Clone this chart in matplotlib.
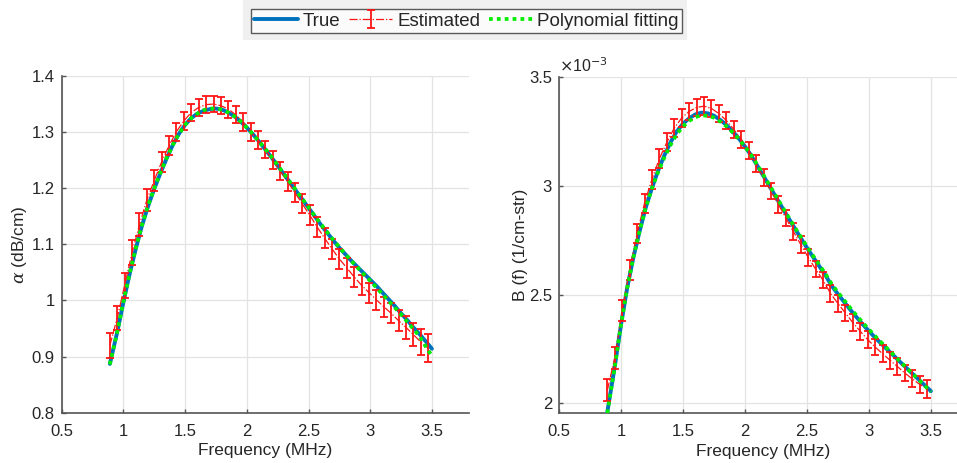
import numpy as np
import matplotlib
matplotlib.use("Agg")
import matplotlib.pyplot as plt
from matplotlib.patches import Rectangle
from matplotlib.ticker import FuncFormatter, FixedLocator

plt.rcParams['font.family'] = ['Liberation Sans', 'DejaVu Sans']
plt.rcParams['mathtext.fontset'] = 'custom'
plt.rcParams['mathtext.it'] = 'DejaVu Serif:italic'

# ---- frequency grids (MHz) ----
freq_true = [0.89, 0.95, 1.00, 1.05, 1.10, 1.15, 1.20, 1.25, 1.30, 1.35, 1.40,
             1.45, 1.50, 1.55, 1.60, 1.65, 1.70, 1.75, 1.80, 1.85, 1.90, 1.95,
             2.00, 2.05, 2.10, 2.15, 2.20, 2.25, 2.30, 2.35, 2.40, 2.45, 2.50,
             2.55, 2.60, 2.65, 2.70, 2.75, 2.80, 2.85, 2.90, 2.95, 3.00, 3.05,
             3.10, 3.15, 3.20, 3.25, 3.30, 3.35, 3.40, 3.45, 3.50]

freq_est = [0.89, 0.95, 1.01, 1.07, 1.13, 1.19, 1.25, 1.31, 1.37, 1.43, 1.49,
            1.55, 1.61, 1.67, 1.73, 1.79, 1.85, 1.91, 1.97, 2.03, 2.09, 2.15,
            2.21, 2.27, 2.33, 2.39, 2.45, 2.51, 2.57, 2.63, 2.69, 2.75, 2.81,
            2.87, 2.93, 2.99, 3.05, 3.11, 3.17, 3.23, 3.29, 3.35, 3.41, 3.47]

# ---- attenuation alpha (dB/cm) ----
alpha_true = [0.887, 0.944, 0.997, 1.047, 1.092, 1.133, 1.168, 1.199, 1.227,
              1.253, 1.277, 1.297, 1.313, 1.325, 1.333, 1.338, 1.341, 1.342,
              1.340, 1.335, 1.328, 1.319, 1.308, 1.296, 1.283, 1.269, 1.255,
              1.240, 1.225, 1.210, 1.195, 1.180, 1.165, 1.150, 1.135, 1.121,
              1.107, 1.094, 1.082, 1.070, 1.059, 1.048, 1.037, 1.026, 1.014,
              1.002, 0.990, 0.977, 0.965, 0.952, 0.940, 0.927, 0.914]

alpha_poly = [0.886, 0.944, 0.998, 1.048, 1.093, 1.134, 1.169, 1.200, 1.228,
              1.254, 1.277, 1.297, 1.313, 1.325, 1.333, 1.339, 1.342, 1.342,
              1.340, 1.335, 1.328, 1.319, 1.308, 1.296, 1.283, 1.270, 1.256,
              1.241, 1.226, 1.211, 1.196, 1.181, 1.166, 1.151, 1.136, 1.122,
              1.108, 1.095, 1.082, 1.070, 1.058, 1.046, 1.035, 1.023, 1.011,
              0.999, 0.987, 0.975, 0.962, 0.949, 0.936, 0.918, 0.901]

alpha_est = [0.920, 0.969, 1.027, 1.085, 1.135, 1.179, 1.214, 1.247, 1.276,
             1.301, 1.320, 1.335, 1.344, 1.349, 1.350, 1.347, 1.341, 1.331,
             1.318, 1.301, 1.286, 1.269, 1.250, 1.231, 1.212, 1.192, 1.172,
             1.152, 1.131, 1.111, 1.092, 1.074, 1.058, 1.042, 1.027, 1.014,
             1.001, 0.989, 0.977, 0.964, 0.952, 0.939, 0.926, 0.915]

alpha_err = [0.022, 0.022, 0.022, 0.022, 0.021, 0.020, 0.019, 0.018, 0.017,
             0.016, 0.016, 0.015, 0.015, 0.015, 0.015, 0.015, 0.015, 0.015,
             0.016, 0.016, 0.016, 0.016, 0.016, 0.016, 0.017, 0.017, 0.017,
             0.018, 0.018, 0.018, 0.018, 0.018, 0.018, 0.018, 0.018, 0.018,
             0.018, 0.018, 0.018, 0.019, 0.020, 0.021, 0.023, 0.025]

# ---- backscatter coefficient B(f) (x1e-3 1/cm-str) ----
bsc_true = [1.960, 2.170, 2.360, 2.530, 2.670, 2.790, 2.900, 2.990, 3.070,
            3.140, 3.200, 3.250, 3.285, 3.310, 3.328, 3.336, 3.333, 3.322,
            3.303, 3.280, 3.250, 3.218, 3.180, 3.140, 3.092, 3.044, 2.996,
            2.948, 2.900, 2.853, 2.806, 2.760, 2.715, 2.672, 2.630, 2.588,
            2.540, 2.502, 2.466, 2.430, 2.396, 2.363, 2.332, 2.302, 2.274,
            2.246, 2.219, 2.191, 2.164, 2.137, 2.110, 2.083, 2.056]

bsc_poly = [1.955, 2.168, 2.360, 2.530, 2.672, 2.792, 2.900, 2.988, 3.064,
            3.130, 3.188, 3.237, 3.273, 3.298, 3.316, 3.323, 3.322, 3.313,
            3.296, 3.274, 3.246, 3.215, 3.180, 3.141, 3.096, 3.049, 3.001,
            2.953, 2.905, 2.858, 2.811, 2.766, 2.721, 2.678, 2.636, 2.595,
            2.548, 2.510, 2.474, 2.438, 2.404, 2.371, 2.340, 2.309, 2.280,
            2.251, 2.222, 2.193, 2.165, 2.137, 2.109, 2.081, 2.052]

bsc_est = [2.060, 2.210, 2.425, 2.615, 2.780, 2.920, 3.030, 3.125, 3.200,
           3.265, 3.312, 3.342, 3.360, 3.366, 3.355, 3.332, 3.300, 3.259,
           3.214, 3.162, 3.102, 3.039, 2.976, 2.914, 2.852, 2.790, 2.730,
           2.671, 2.617, 2.566, 2.505, 2.459, 2.415, 2.371, 2.331, 2.293,
           2.259, 2.228, 2.198, 2.169, 2.139, 2.112, 2.087, 2.067]

bsc_err = [0.050, 0.050, 0.048, 0.046, 0.045, 0.044, 0.043, 0.042, 0.042,
           0.041, 0.041, 0.040, 0.040, 0.040, 0.040, 0.040, 0.040, 0.040,
           0.039, 0.039, 0.039, 0.038, 0.038, 0.038, 0.038, 0.038, 0.038,
           0.038, 0.038, 0.038, 0.038, 0.038, 0.038, 0.038, 0.038, 0.038,
           0.038, 0.038, 0.038, 0.038, 0.038, 0.039, 0.040, 0.042]

x_ticks = [0.5, 1, 1.5, 2, 2.5, 3, 3.5]
alpha_ticks = [0.8, 0.9, 1.0, 1.1, 1.2, 1.3, 1.4]
bsc_ticks = [2.0, 2.5, 3.0, 3.5]

# ---- styling ----
BLUE = '#0072bd'
RED = '#ff1414'
GREEN = '#00ee00'
TXT = '#262626'
AX = '#555555'
GRID = '#e3e3e3'

fig = plt.figure(figsize=(9.57, 4.63), dpi=100)

ax1 = fig.add_axes([0.0645, 0.1086, 0.4255, 0.7273])
ax2 = fig.add_axes([0.5841, 0.1073, 0.4275, 0.7264])

fmt = FuncFormatter(lambda v, p: f"{v:g}")


def draw(ax, y_true, y_est, y_err, y_poly):
    h_true, = ax.plot(freq_true, y_true, color=BLUE, lw=2.8,
                      solid_capstyle='round', zorder=3)
    h_est = ax.errorbar(freq_est, y_est, yerr=y_err, color=RED, lw=0.9,
                        ls='-.', elinewidth=1.3, capsize=2.6, capthick=1.3,
                        zorder=4)
    h_poly, = ax.plot(freq_true, y_poly, color=GREEN, lw=2.7,
                      ls=(0, (1, 1.1)), zorder=5)
    ax.grid(True, color=GRID, lw=0.9)
    ax.set_axisbelow(True)
    for s in ('top', 'right'):
        ax.spines[s].set_visible(False)
    for s in ('left', 'bottom'):
        ax.spines[s].set_color(AX)
        ax.spines[s].set_linewidth(1.2)
    ax.tick_params(direction='in', length=3, width=1, color=AX,
                   labelcolor=TXT, labelsize=12)
    ax.tick_params(axis='x', pad=8)
    ax.tick_params(axis='y', pad=5)
    ax.set_xlim(0.5, 3.8)
    ax.xaxis.set_major_locator(FixedLocator(x_ticks))
    ax.xaxis.set_major_formatter(fmt)
    ax.yaxis.set_major_formatter(fmt)
    ax.set_xlabel('Frequency (MHz)', fontsize=12.5, color=TXT, labelpad=3)
    return h_true, h_est, h_poly


handles = draw(ax1, alpha_true, alpha_est, alpha_err, alpha_poly)
ax1.set_ylim(0.8, 1.4)
ax1.yaxis.set_major_locator(FixedLocator(alpha_ticks))
ax1.set_ylabel(r'$\alpha$ (dB/cm)', fontsize=12.5, color=TXT, labelpad=2)

draw(ax2, bsc_true, bsc_est, bsc_err, bsc_poly)
ax2.set_ylim(1.954, 3.5)
ax2.yaxis.set_major_locator(FixedLocator(bsc_ticks))
ax2.set_ylabel('B (f) (1/cm-str)', fontsize=12.5, color=TXT, labelpad=1)
ax2.text(0.0, 1.005, r'$\times$10$^{-3}$', transform=ax2.transAxes,
         fontsize=11.5, color=TXT, ha='left', va='bottom')

# legend strip across the top
fig.patches.append(Rectangle((243 / 957, 1 - 40 / 463), 444 / 957, 40 / 463,
                             transform=fig.transFigure, facecolor='#f0f0f0',
                             edgecolor='none', zorder=0))
leg = fig.legend(handles, ['True', 'Estimated', 'Polynomial fitting'],
                 loc='center', bbox_to_anchor=(0.4875, 0.9546), ncol=3,
                 fontsize=13.5, frameon=True, fancybox=False,
                 handlelength=2.3, handletextpad=0.25, columnspacing=0.5,
                 borderpad=0.2, borderaxespad=0)
leg.get_frame().set_edgecolor('#333333')
leg.get_frame().set_linewidth(1.0)
for t in leg.get_texts():
    t.set_color(TXT)

fig.savefig('out.png', dpi=100)
